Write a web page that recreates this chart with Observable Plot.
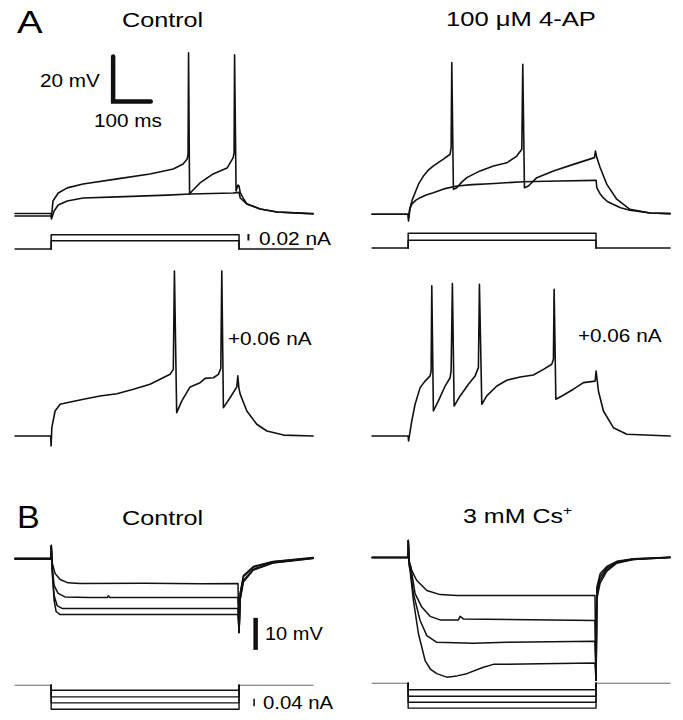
<!DOCTYPE html>
<html><head><meta charset="utf-8">
<script src="https://cdn.jsdelivr.net/npm/d3@7"></script>
<script src="https://cdn.jsdelivr.net/npm/@observablehq/plot@0.6"></script>
<style>
html,body{margin:0;padding:0;background:#fff;}
#fig{position:relative;width:683px;height:720px;overflow:hidden;background:#fff;font-family:"Liberation Sans",Arial,Helvetica,sans-serif;}
#fig svg{position:absolute;}
</style></head><body><div id="fig"></div>
<script>
// ---------- DATA (time in ms from pulse onset, membrane potential in mV, current in pA) ----------
const sweep = {start: -96, on: 0, off: 500, end: 697};

// Panel A, Control, two current steps (sub-threshold and spiking)
const aCtrlSub = [[-96,-70.9],[0,-70.9],[1,-72.2],[8,-68.7],[19,-66],[43,-64.2],[85,-62.9],[176,-62.4],[309,-61.6],[370,-61.1],[484,-60.7],[500,-60.4],[503,-62.9],[521,-65.6],[556,-67.8],[601,-69.1],[662,-69.6],[697,-70]];
const aCtrlSpk = [[-96,-69.8],[0,-69.8],[1,-71.3],[5,-64.2],[19,-60.7],[43,-58.4],[85,-56.7],[176,-54.4],[263,-52.2],[325,-50],[351,-47.8],[362,-45.6],[364.3,-43.3],[365.6,1.6],[368.3,-61.1],[375,-59.8],[396,-56.2],[431,-52.2],[468,-49.6],[484,-45.1],[486.7,-42.9],[488,0.7],[492,-59.8],[497,-57.1],[500,-57.6],[503,-60.5],[511,-63],[521,-65.6],[556,-67.8],[601,-69.1],[662,-69.6],[697,-69.8]];
// Panel A, 100 µM 4-AP
const aApSub = [[-96,-69.7],[0,-69.7],[1,-71.3],[4,-67.5],[9.8,-65.2],[20,-63.5],[32,-62.3],[48,-61.1],[67,-60.1],[95,-58.4],[130,-57.1],[170,-56.5],[218,-56.1],[306,-55.2],[400,-54.9],[497,-54.6],[500,-54.6],[502,-57.9],[510,-60.4],[519,-62.3],[530,-64],[545,-65.2],[565,-66.8],[590,-67.9],[644,-69.1],[697,-69.4]];
const aApSpk = [[-96,-69.7],[0,-69.7],[1,-72.7],[5.3,-66.8],[11,-63.3],[18.6,-60.1],[28,-56.2],[40.7,-52.7],[53,-50.2],[67.3,-48.2],[94,-45.2],[111.7,-43],[114.4,-40.1],[116.2,-2.3],[120.5,-58.6],[129.5,-57.9],[142,-55.5],[156,-53.4],[191.5,-50.4],[227,-48.2],[262.5,-46.8],[289,-43.8],[302.4,-40.8],[305,-3],[309.4,-57.9],[320,-57.1],[342.3,-53.4],[386.5,-50.4],[439.7,-47.5],[495.6,-44.5],[498.3,-41.6],[502,-44.5],[511,-49],[528.6,-56.4],[555,-63],[590,-67.5],[644,-69.1],[697,-69.4]];
// Panel A, +0.06 nA
const aCtrl06 = [[-96,-70],[-1,-70],[0,-74.4],[1.9,-66.3],[10.6,-58.9],[24,-55.9],[41.8,-55.2],[86,-53.7],[130,-52.2],[175,-51.2],[219,-49.2],[263,-47],[290,-44.8],[316.5,-42.6],[325,-40.4],[328,3.3],[334,-59.6],[347.7,-54.4],[369.7,-48.2],[396.3,-46.3],[409.6,-44.4],[431.7,-44.1],[445,-42.6],[451.4,-39.9],[454,3.3],[458.3,-57.4],[476,-53],[494,-48.2],[496.6,-43.3],[499.3,-48.5],[502.7,-51.3],[520.6,-58.9],[547,-64.8],[574,-67.8],[618,-69.6],[697,-70]];
const aAp06 = [[-96,-70],[0,-70],[1.3,-72.2],[9.8,-63.3],[18.6,-55.9],[32,-48.5],[45.2,-45.6],[58.5,-43.3],[61.2,-41.1],[63,-3.3],[67.3,-58.9],[80.6,-54.4],[98.4,-47.8],[111.7,-44.1],[114.4,-41.1],[117.8,-2.3],[122.4,-56.7],[138.3,-52.2],[160.4,-47],[178.2,-43.3],[187,-39.6],[189.7,-2.6],[196,-55.9],[209.3,-52.2],[236,-47.8],[262.5,-45.2],[298,-43.8],[333.3,-42.9],[360,-40.4],[382.2,-38.1],[386.5,-35.9],[388.4,-4.8],[393,-53.7],[409,-52.2],[439.7,-49.2],[466.3,-46.3],[497.4,-45.6],[500,-41.1],[506.2,-50],[519.5,-58.9],[546,-66.3],[581.7,-69.2],[697,-70]];

// Panel B, Control: four hyperpolarizing steps
const bCtrl1 = [[-96,-64.7],[0,-64.7],[0.5,-60.6],[2.7,-65.9],[10.6,-69.4],[24,-71.25],[45,-72.3],[77,-72.5],[250,-72.4],[400,-72.6],[497,-72.5],[500,-87.8],[502.7,-75.6],[511.5,-70],[538,-67.2],[590,-65.6],[697,-64.4]];
const bCtrl2 = [[-96,-64.8],[0,-64.8],[0.5,-60.6],[2.7,-66.9],[8,-73.1],[18.6,-75.6],[37,-76.7],[100,-76.9],[150,-76.9],[152,-76.3],[156,-76.9],[497,-76.9],[500,-87.8],[502.7,-76],[511.5,-70.4],[538,-67.4],[590,-65.7],[697,-64.5]];
const bCtrl3 = [[-96,-64.6],[0,-64.6],[0.5,-60.6],[2.7,-67.8],[8,-76.25],[16,-79.4],[29,-80.3],[497,-80.3],[500,-87.8],[502.7,-77.2],[511.5,-71.6],[538,-68],[590,-66],[697,-64.6]];
const bCtrl4 = [[-96,-64.9],[0,-64.9],[0.5,-60.6],[2.7,-68.4],[8,-77.8],[13.3,-81.25],[24,-82.2],[497,-82.2],[500,-87.8],[502.7,-77.8],[511.5,-72],[538,-68.3],[590,-66.1],[697,-64.7]];
// Panel B, 3 mM Cs+
const bCs1 = [[-96,-65],[0,-65],[0.5,-59.7],[2.7,-66],[9.8,-69.1],[23.1,-72.2],[49.7,-75.3],[85.1,-76.6],[129.5,-76.9],[497,-76.9],[500,-103.4],[502,-74.3],[510.7,-70.1],[528.5,-67.8],[555,-66.2],[599,-65.4],[697,-64.9]];
const bCs2 = [[-96,-65],[0,-65],[0.5,-59.7],[2.7,-66.5],[7.2,-68],[18.6,-76.3],[36.4,-80.5],[58.5,-83.4],[85.1,-84.5],[133.8,-84.5],[138.3,-83.4],[147.1,-84.2],[497,-84.7],[500,-103.4],[502,-75.5],[510.7,-71],[528.5,-68.3],[555,-66.4],[599,-65.5],[697,-64.9]];
const bCs3 = [[-96,-65],[0,-65],[0.5,-59.7],[2.7,-67],[5.3,-68],[14.1,-76.3],[31.9,-84.7],[49.7,-89.4],[76.3,-91.5],[173.7,-91.8],[262.5,-91.5],[497,-91.2],[500,-103.4],[502,-76.5],[510.7,-72],[528.5,-68.8],[555,-66.6],[599,-65.6],[697,-65]];
const bCs4 = [[-96,-65],[0,-65],[0.5,-59.7],[2.7,-67.5],[5.3,-69.1],[14.1,-78.4],[27.4,-88.75],[45.2,-97.2],[60,-100],[76.3,-101.3],[102.9,-102.4],[130,-102],[156.1,-101.3],[200.3,-99.3],[226.9,-98.4],[351,-98.2],[497,-98],[500,-103.4],[502,-78],[510.7,-73],[528.5,-69.3],[555,-66.8],[599,-65.6],[697,-65]];

// Injected current step amplitudes (pA)
const aCtrlSteps = [25, 44];
const aApSteps = [24, 45];
const bCtrlSteps = [-27, -62, -94, -128];
const bCsSteps = [-35, -69, -101, -133];

// Scale bars
const scaleA = {mV: 20, ms: 100, pA: 20};
const scaleB = {mV: 10, pA: 40};

// Text
const titles = {panelA: "A", panelB: "B", ctrl: "Control", ap: "100 μM 4-AP", cs: "3 mM Cs", csSup: "+"};
const scaleLabels = {aV: "20 mV", aT: "100 ms", aI: "0.02 nA", bV: "10 mV", bI: "0.04 nA", big: "+0.06 nA"};

// ---------- DRAWING ----------
const fig = document.getElementById("fig");
const MS_PX = 0.376;                 // px per ms
const T_DOMAIN = [-100, 710];
const W = (T_DOMAIN[1] - T_DOMAIN[0]) * MS_PX;
const COL_X0 = {left: 51, right: 408};  // pixel of pulse onset
const INK = "#111";

const toRows = (arr, id) => arr.map(([t, v]) => ({t, v, id}));

function panel({col, baseY, ref, pxPerUnit, domain, marks}) {
  const H = (domain[1] - domain[0]) * pxPerUnit;
  const top = baseY - (domain[1] - ref) * pxPerUnit;
  const svg = Plot.plot({
    width: W, height: H, margin: 0,
    x: {domain: T_DOMAIN, axis: null},
    y: {domain, axis: null},
    style: {background: "transparent", overflow: "visible", maxWidth: "none"},
    marks
  });
  svg.style.left = (COL_X0[col] + T_DOMAIN[0] * MS_PX) + "px";
  svg.style.top = top + "px";
  fig.appendChild(svg);
}

function traceMark(list, sw = 1.6) {
  const rows = list.flatMap((arr, i) => toRows(arr, i));
  return Plot.line(rows, {x: "t", y: "v", z: "id", stroke: INK, strokeWidth: sw});
}

function stepMarks(levels, baseColor, baseWidth, sw) {
  const steps = levels.flatMap((L, i) => [
    {t: sweep.on, v: 0, id: i}, {t: sweep.on, v: L, id: i},
    {t: sweep.off, v: L, id: i}, {t: sweep.off, v: 0, id: i}
  ]);
  const base = [
    {t: sweep.start, v: 0, id: "pre"}, {t: sweep.on, v: 0, id: "pre"},
    {t: sweep.off, v: 0, id: "post"}, {t: sweep.end, v: 0, id: "post"}
  ];
  return [
    Plot.line(base, {x: "t", y: "v", z: "id", stroke: baseColor, strokeWidth: baseWidth}),
    Plot.line(steps, {x: "t", y: "v", z: "id", stroke: INK, strokeWidth: sw})
  ];
}

// Panel A voltage traces (2.25 px / mV)
const A_DOM = [-78, 8];
panel({col: "left", baseY: 213, ref: -70, pxPerUnit: 2.25, domain: A_DOM, marks: [
  traceMark([aCtrlSub, aCtrlSpk]),
  Plot.line([{t: 165, v: -20 + scaleA.mV}, {t: 165, v: -20}, {t: 165 + scaleA.ms, v: -20}],
    {x: "t", y: "v", stroke: INK, strokeWidth: 4.5, strokeLinejoin: "miter", strokeMiterlimit: 4})
]});
panel({col: "right", baseY: 214, ref: -70, pxPerUnit: 2.25, domain: A_DOM, marks: [traceMark([aApSub, aApSpk])]});
panel({col: "left", baseY: 435, ref: -70, pxPerUnit: 2.25, domain: A_DOM, marks: [traceMark([aCtrl06])]});
panel({col: "right", baseY: 435, ref: -70, pxPerUnit: 2.25, domain: A_DOM, marks: [traceMark([aAp06])]});

// Panel A current steps (0.325 px / pA)
const AI_DOM = [-10, 60];
panel({col: "left", baseY: 248.5, ref: 0, pxPerUnit: 0.325, domain: AI_DOM, marks: [
  ...stepMarks(aCtrlSteps, INK, 1.5, 1.5),
  Plot.ruleX([525], {y1: 24.6, y2: 24.6 + scaleA.pA, stroke: INK, strokeWidth: 2})
]});
panel({col: "right", baseY: 247, ref: 0, pxPerUnit: 0.325, domain: AI_DOM, marks: [...stepMarks(aApSteps, INK, 1.5, 1.5)]});

// Panel B voltage traces (3.2 px / mV)
const B_DOM = [-110, -55];
panel({col: "left", baseY: 559, ref: -65, pxPerUnit: 3.2, domain: B_DOM, marks: [
  traceMark([bCtrl1, bCtrl2, bCtrl3, bCtrl4], 1.5),
  Plot.ruleX([544], {y1: -93.4, y2: -93.4 + scaleB.mV, stroke: INK, strokeWidth: 4.5})
]});
panel({col: "right", baseY: 557, ref: -65, pxPerUnit: 3.2, domain: B_DOM, marks: [traceMark([bCs1, bCs2, bCs3, bCs4], 1.5)]});

// Panel B current steps (0.1875 px / pA)
const BI_DOM = [-150, 20];
panel({col: "left", baseY: 685, ref: 0, pxPerUnit: 0.1875, domain: BI_DOM, marks: [
  ...stepMarks(bCtrlSteps, "#666", 1, 1.4),
  Plot.ruleX([540], {y1: -74.7 - scaleB.pA, y2: -74.7, stroke: INK, strokeWidth: 1.6})
]});
panel({col: "right", baseY: 682.7, ref: 0, pxPerUnit: 0.1875, domain: BI_DOM, marks: [...stepMarks(bCsSteps, "#666", 1, 1.4)]});

// Text overlay
const overlay = d3.select(fig).append("svg")
  .attr("width", 683).attr("height", 720)
  .style("left", "0px").style("top", "0px").style("pointer-events", "none")
  .attr("font-family", '"Liberation Sans", Arial, Helvetica, sans-serif').attr("fill", "#000");

function label(str, x, y, size, sx) {
  return overlay.append("text")
    .attr("transform", `translate(${x},${y}) scale(${sx},1)`)
    .attr("font-size", size)
    .text(str);
}
label(titles.panelA, 17, 33, 32, 1.2);
label(titles.ctrl, 122, 27, 21, 1.2);
label(titles.ap, 446, 26, 21, 1.22);
label(scaleLabels.aV, 40, 87, 18.5, 1.12);
label(scaleLabels.aT, 94, 127, 18.5, 1.12);
label(scaleLabels.aI, 259, 244.5, 18.5, 1.13);
label(scaleLabels.big, 228, 345, 18.5, 1.12);
label(scaleLabels.big, 578, 342, 18.5, 1.12);
label(titles.panelB, 17, 528, 31, 1.1);
label(titles.ctrl, 122, 525, 21, 1.2);
const cs = label(titles.cs, 463, 523, 21, 1.19);
cs.append("tspan").attr("dy", -8).attr("font-size", 13).text(titles.csSup);
label(scaleLabels.bV, 265, 640, 18.5, 1.08);
label(scaleLabels.bI, 263, 709, 18.5, 1.1);
</script>
</body></html>
